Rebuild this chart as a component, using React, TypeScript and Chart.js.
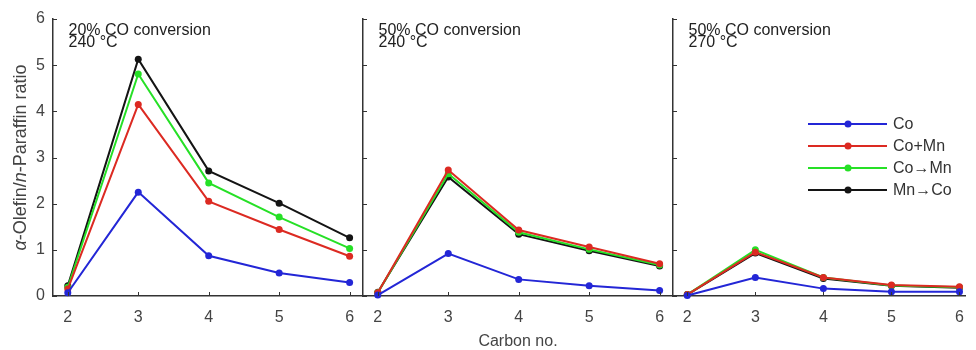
import React, { useEffect, useRef } from 'react';
import { Chart, registerables } from 'chart.js';
Chart.register(...registerables);

// ---- data ----
const carbonNo = [2, 3, 4, 5, 6];
const yTickValues = [0, 1, 2, 3, 4, 5, 6];
const seriesNames = ['Co', 'Co+Mn', 'Co\u2192Mn', 'Mn\u2192Co'];
const seriesColors = ['#2326d6', '#dc2a22', '#26e026', '#141414'];

// Panel 1: 20% CO conversion, 240 °C
const p1Co = [0.07, 2.25, 0.87, 0.5, 0.29];
const p1CoMn = [0.15, 4.15, 2.05, 1.44, 0.86];
const p1CoToMn = [0.19, 4.81, 2.45, 1.71, 1.03];
const p1MnToCo = [0.22, 5.13, 2.71, 2.01, 1.26];
// Panel 2: 50% CO conversion, 240 °C
const p2Co = [0.02, 0.92, 0.36, 0.22, 0.12];
const p2CoMn = [0.07, 2.73, 1.43, 1.06, 0.7];
const p2CoToMn = [0.07, 2.65, 1.38, 1.01, 0.67];
const p2MnToCo = [0.08, 2.58, 1.34, 0.98, 0.65];
// Panel 3: 50% CO conversion, 270 °C
const p3Co = [0.01, 0.4, 0.16, 0.09, 0.09];
const p3CoMn = [0.03, 0.95, 0.4, 0.24, 0.2];
const p3CoToMn = [0.03, 1.0, 0.4, 0.23, 0.19];
const p3MnToCo = [0.03, 0.93, 0.38, 0.22, 0.18];

const panelTitles = [
  ['20% CO conversion', '240 \u00B0C'],
  ['50% CO conversion', '240 \u00B0C'],
  ['50% CO conversion', '270 \u00B0C'],
];

const FONT = '"Liberation Sans", Arial, sans-serif';
const AXIS_COLOR = '#333333';
const TICK_TEXT = '#444444';

type PanelSpec = {
  series: number[][];
  titles: string[];
  first: boolean;
  xTitle: boolean;
  legend: boolean;
  xMax: number;
  padRight: number;
  yWidth: number;
};

function makeDatasets(series: number[][]) {
  return series.map((vals, i) => ({
    label: seriesNames[i],
    data: carbonNo.map((c, j) => ({ x: c, y: vals[j] })),
    borderColor: seriesColors[i],
    backgroundColor: seriesColors[i],
    pointBackgroundColor: seriesColors[i],
    pointBorderColor: seriesColors[i],
    borderWidth: 2,
    pointRadius: 3.5,
    pointBorderWidth: 0,
    tension: 0,
    clip: false as any,
  }));
}

function decorPlugin(spec: PanelSpec) {
  return {
    id: 'decor',
    afterDraw(chart: any) {
      const ctx = chart.ctx as CanvasRenderingContext2D;
      const area = chart.chartArea;
      const xs = chart.scales.x;
      const ys = chart.scales.y;
      ctx.save();
      // inward ticks
      ctx.strokeStyle = AXIS_COLOR;
      ctx.lineWidth = 1;
      ctx.beginPath();
      yTickValues.forEach((v) => {
        const py = Math.round(ys.getPixelForValue(v)) + 0.5;
        ctx.moveTo(area.left, py);
        ctx.lineTo(area.left + 4, py);
      });
      carbonNo.forEach((v) => {
        const px = Math.round(xs.getPixelForValue(v)) + 0.5;
        ctx.moveTo(px, area.bottom);
        ctx.lineTo(px, area.bottom - 4);
      });
      ctx.stroke();

      // panel annotation
      ctx.fillStyle = '#222222';
      ctx.font = `16px ${FONT}`;
      ctx.textAlign = 'left';
      ctx.textBaseline = 'alphabetic';
      ctx.fillText(spec.titles[0], area.left + 15.5, 35);
      ctx.fillText(spec.titles[1], area.left + 15.5, 46.5);

      // x title
      if (spec.xTitle) {
        ctx.fillStyle = TICK_TEXT;
        ctx.textAlign = 'center';
        ctx.fillText('Carbon no.', (area.left + area.right) / 2, 346);
      }

      // y title with italic parts
      if (spec.first) {
        const parts: [string, boolean][] = [
          ['\u03B1', true],
          ['-Olefin/', false],
          ['n', true],
          ['-Paraffin ratio', false],
        ];
        const fontN = `18px ${FONT}`;
        const fontI = `italic 18px ${FONT}`;
        let total = 0;
        const widths = parts.map(([t, it]) => {
          ctx.font = it ? fontI : fontN;
          const w = ctx.measureText(t).width;
          total += w;
          return w;
        });
        ctx.translate(26, (area.top + area.bottom) / 2);
        ctx.rotate(-Math.PI / 2);
        ctx.fillStyle = TICK_TEXT;
        ctx.textAlign = 'left';
        ctx.textBaseline = 'alphabetic';
        let x = -total / 2;
        parts.forEach(([t, it], i) => {
          ctx.font = it ? fontI : fontN;
          ctx.fillText(t, x, 0);
          x += widths[i];
        });
        ctx.setTransform(1, 0, 0, 1, 0, 0);
      }

      // legend
      if (spec.legend) {
        const lx0 = area.left + 135;
        const lx1 = area.left + 214;
        const mx = area.left + 175;
        const tx = area.left + 220;
        const rowY = [124, 146, 168, 190];
        seriesNames.forEach((name, i) => {
          const y = rowY[i];
          ctx.strokeStyle = seriesColors[i];
          ctx.lineWidth = 2;
          ctx.beginPath();
          ctx.moveTo(lx0, y);
          ctx.lineTo(lx1, y);
          ctx.stroke();
          ctx.fillStyle = seriesColors[i];
          ctx.beginPath();
          ctx.arc(mx, y, 3.5, 0, Math.PI * 2);
          ctx.fill();
          ctx.fillStyle = '#333333';
          ctx.font = `16px ${FONT}`;
          ctx.textAlign = 'left';
          ctx.textBaseline = 'middle';
          ctx.fillText(name, tx, y + 1);
        });
      }
      ctx.restore();
    },
  };
}

function makeConfig(spec: PanelSpec): any {
  return {
    type: 'line',
    data: { datasets: makeDatasets(spec.series) },
    plugins: [decorPlugin(spec)],
    options: {
      responsive: false,
      animation: false,
      devicePixelRatio: 1,
      layout: { padding: { top: 19, right: spec.padRight, left: 0, bottom: 0 } },
      plugins: { legend: { display: false }, tooltip: { enabled: false } },
      scales: {
        x: {
          type: 'linear',
          min: 1.79,
          max: spec.xMax,
          afterBuildTicks: (s: any) => {
            s.ticks = carbonNo.map((v) => ({ value: v }));
          },
          afterFit: (s: any) => {
            s.height = 54;
          },
          ticks: {
            color: TICK_TEXT,
            font: { family: FONT, size: 16 },
            padding: 12,
            maxRotation: 0,
            autoSkip: false,
            callback: (v: any) => String(v),
          },
          grid: { display: false, drawTicks: false },
          border: { display: true, color: AXIS_COLOR, width: 1.5 },
        },
        y: {
          type: 'linear',
          min: 0,
          max: 6,
          afterBuildTicks: (s: any) => {
            s.ticks = yTickValues.map((v) => ({ value: v }));
          },
          afterFit: (s: any) => {
            s.width = spec.yWidth;
          },
          ticks: {
            display: spec.first,
            color: TICK_TEXT,
            font: { family: FONT, size: 16 },
            padding: 8,
            callback: (v: any) => String(v),
          },
          grid: { display: false, drawTicks: false },
          border: { display: true, color: AXIS_COLOR, width: 1.5 },
        },
      },
    },
  };
}

const panels: { left: number; width: number; spec: PanelSpec }[] = [
  {
    left: 0,
    width: 368,
    spec: {
      series: [p1Co, p1CoMn, p1CoToMn, p1MnToCo],
      titles: panelTitles[0],
      first: true,
      xTitle: false,
      legend: false,
      xMax: 6.19,
      padRight: 5,
      yWidth: 53,
    },
  },
  {
    left: 353,
    width: 330,
    spec: {
      series: [p2Co, p2CoMn, p2CoToMn, p2MnToCo],
      titles: panelTitles[1],
      first: false,
      xTitle: true,
      legend: false,
      xMax: 6.19,
      padRight: 10,
      yWidth: 10,
    },
  },
  {
    left: 663,
    width: 313,
    spec: {
      series: [p3Co, p3CoMn, p3CoToMn, p3MnToCo],
      titles: panelTitles[2],
      first: false,
      xTitle: false,
      legend: true,
      xMax: 6.09,
      padRight: 0,
      yWidth: 10,
    },
  },
];

function Panel({ left, width, spec }: { left: number; width: number; spec: PanelSpec }) {
  const ref = useRef<HTMLCanvasElement>(null);
  useEffect(() => {
    if (!ref.current) return;
    const chart = new Chart(ref.current, makeConfig(spec));
    return () => chart.destroy();
  }, []);
  return (
    <canvas
      ref={ref}
      width={width}
      height={350}
      style={{ position: 'absolute', left, top: 0, width, height: 350 }}
    />
  );
}

export default function App() {
  useEffect(() => {
    document.body.style.margin = '0';
  }, []);
  return (
    <div style={{ position: 'relative', width: 976, height: 350, background: '#ffffff', overflow: 'hidden' }}>
      {panels.map((p, i) => (
        <Panel key={i} left={p.left} width={p.width} spec={p.spec} />
      ))}
    </div>
  );
}
